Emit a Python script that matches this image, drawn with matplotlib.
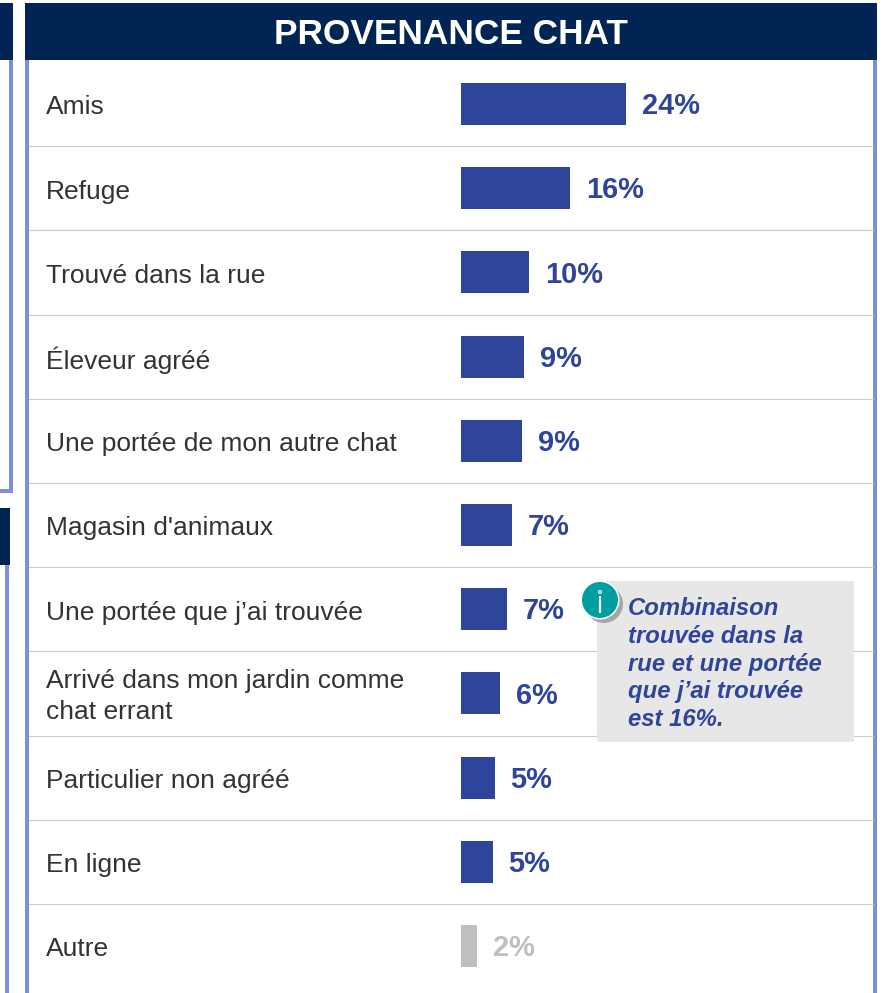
import matplotlib
matplotlib.use("Agg")
import matplotlib.pyplot as plt
from matplotlib.patches import Rectangle, Circle

title = "PROVENANCE CHAT"
categories = ["Amis", "Refuge", "Trouvé dans la rue", "Éleveur agréé",
              "Une portée de mon autre chat", "Magasin d'animaux",
              "Une portée que j’ai trouvée",
              "Arrivé dans mon jardin comme\nchat errant",
              "Particulier non agréé", "En ligne", "Autre"]
values = [24.0, 15.9, 9.9, 9.2, 8.9, 7.4, 6.7, 5.7, 4.9, 4.6, 2.3]
value_labels = ["24%", "16%", "10%", "9%", "9%", "7%", "7%", "6%", "5%", "5%", "2%"]
note = "Combinaison\ntrouvée dans la\nrue et une portée\nque j’ai trouvée\nest 16%."

NAVY, BAR, BORDER = "#002554", "#2F459B", "#7B8FDB"
LINE, GREY, TEXT = "#CCCCCC", "#BFBFBF", "#333333"
W, H = 884, 993
plt.rcParams["font.family"] = ["Liberation Sans", "DejaVu Sans"]

fig = plt.figure(figsize=(W / 100, H / 100), dpi=100)
bg = fig.add_axes([0, 0, 1, 1])
bg.set_xlim(0, W); bg.set_ylim(H, 0); bg.axis("off")

def rect(x0, y0, x1, y1, color, z=1):
    bg.add_patch(Rectangle((x0, y0), x1 - x0, y1 - y0, fc=color, ec="none", zorder=z))

# neighbouring panels cut off on the left
rect(0, 3, 13, 60, NAVY, 3)
rect(9, 60, 13, 493, BORDER)
rect(0, 489, 13, 493, BORDER)
rect(0, 508, 10, 565, NAVY, 3)
rect(5, 565, 9, H, BORDER)
# main panel
rect(25, 3, 877, 60, NAVY, 3)
rect(25, 60, 29, H, BORDER)
rect(873, 60, 877, H, BORDER)
bg.text(451, 34.5, title, color="white", fontsize=25.4, fontweight="bold",
        ha="center", va="center", zorder=4)

# rows
ROW0, STEP, LEFT = 104.0, 84.2, 461
for i, c in enumerate(categories):
    y = ROW0 + STEP * i
    if i < len(categories) - 1:
        bg.plot([29, 873], [y + STEP / 2] * 2, color=LINE, lw=0.8, zorder=1)
    bg.text(45.5, y + (3.5 if "\n" not in c else 3), c, color=TEXT, fontsize=19, ha="left",
            va="center", linespacing=1.38, zorder=2)

# bars on a percent scale
ax = fig.add_axes([LEFT / W, 0, (873 - LEFT) / W, (H - 62) / H])
ax.patch.set_alpha(0)
ax.set_xlim(0, (873 - LEFT) / 6.875)
ax.set_ylim((H - ROW0) / STEP, (62 - ROW0) / STEP)
ax.axis("off")
colors = [BAR] * (len(values) - 1) + [GREY]
ax.barh(range(len(values)), values, height=42 / STEP, color=colors, zorder=3)
for i, (v, lab, col) in enumerate(zip(values, value_labels, colors)):
    ax.annotate(lab, (v, i), xytext=(11.5, -1.6), textcoords="offset points",
                color=col, fontsize=20.9, fontweight="bold", ha="left",
                va="center", zorder=4)

# note and info icon, above the bar axes
top = fig.add_axes([0, 0, 1, 1])
top.set_xlim(0, W); top.set_ylim(H, 0); top.axis("off"); top.patch.set_alpha(0)
top.add_patch(Rectangle((597, 581), 257, 161, fc="#E7E7E7", ec="none", zorder=1))
top.text(628, 664, note, color=BAR, fontsize=17.2, fontweight="bold", style="italic",
         ha="left", va="center", linespacing=1.26, zorder=2)
top.add_patch(Circle((604, 604), 19, fc="#A6A6A6", ec="none", zorder=3))
top.add_patch(Circle((600, 600), 19.5, fc="white", ec="none", zorder=4))
top.add_patch(Circle((600, 600), 18, fc="#009E9E", ec="none", zorder=5))
top.plot([600, 600], [596, 613], color="white", lw=1.6, solid_capstyle="butt", zorder=6)
top.add_patch(Circle((600, 592), 1.5, fc="none", ec="white", lw=0.8, zorder=6))

fig.savefig("out.png", dpi=100)
